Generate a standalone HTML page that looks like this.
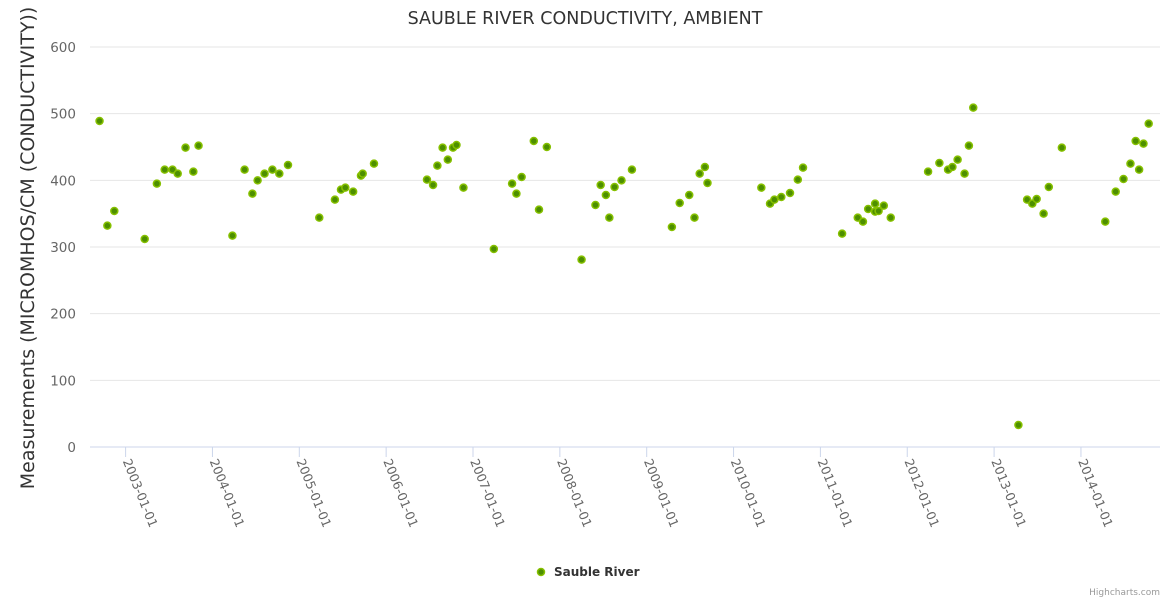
<!DOCTYPE html>
<html><head><meta charset="utf-8"><style>
body{margin:0;background:#fff;}
svg{display:block;font-family:"DejaVu Sans","Liberation Sans",sans-serif;}
</style></head><body>
<svg id="chart" width="1170" height="600">
<rect width="1170" height="600" fill="#fff"/>
<text x="585" y="24" text-anchor="middle" font-size="17.5" fill="#333">SAUBLE RIVER CONDUCTIVITY, AMBIENT</text>
<text transform="translate(34,248) rotate(-90)" text-anchor="middle" font-size="19" fill="#333">Measurements (MICROMHOS/CM (CONDUCTIVITY))</text>
<g id="grid"></g><g id="xaxis"></g><g id="pts"></g>
<g>
<circle cx="541" cy="572" r="3.5" fill="#4d8f00" stroke="#86c000" stroke-width="1.5"/>
<text x="554" y="576" font-size="12" font-weight="bold" fill="#333">Sauble River</text>
</g>
<text x="1160" y="595" text-anchor="end" font-size="9" fill="#999">Highcharts.com</text>
</svg>
<script>
const yTicks=[0,100,200,300,400,500,600];
const xTickYears=[2003,2004,2005,2006,2007,2008,2009,2010,2011,2012,2013,2014];
const dates=[2002.70,2002.79,2002.87,2003.22,2003.36,2003.45,2003.54,2003.60,2003.69,2003.78,2003.84,
2004.23,2004.37,2004.46,2004.52,2004.60,2004.69,2004.77,2004.87,
2005.23,2005.41,2005.48,2005.53,2005.62,2005.71,2005.73,2005.86,
2006.47,2006.54,2006.59,2006.65,2006.71,2006.77,2006.81,2006.89,
2007.24,2007.45,2007.50,2007.56,2007.70,2007.76,2007.85,
2008.25,2008.41,2008.47,2008.53,2008.57,2008.63,2008.71,2008.83,
2009.29,2009.38,2009.49,2009.55,2009.61,2009.67,2009.70,
2010.32,2010.42,2010.47,2010.55,2010.65,2010.74,2010.80,
2011.25,2011.43,2011.49,2011.55,2011.63,2011.63,2011.67,2011.73,2011.81,
2012.24,2012.37,2012.47,2012.52,2012.58,2012.66,2012.71,2012.76,
2013.28,2013.38,2013.44,2013.49,2013.57,2013.63,2013.78,
2014.28,2014.40,2014.49,2014.57,2014.63,2014.67,2014.72,2014.78];
const values=[489,332,354,312,395,416,416,410,449,413,452,
317,416,380,400,410,416,410,423,
344,371,386,389,383,407,410,425,
401,393,422,449,431,449,453,389,
297,395,380,405,459,356,450,
281,363,393,378,344,390,400,416,
330,366,378,344,410,420,396,
389,365,371,375,381,401,419,
320,344,338,357,365,353,354,362,344,
413,426,416,420,431,410,452,509,
33,371,365,372,350,390,449,
338,383,402,425,459,416,455,485];
const X0=90,X1=1160,Y0=447,Y1=47;
const xs=y=>125.6+(y-2003)*86.85;
const ys=v=>Y0-(v/600)*(Y0-Y1);
const NS="http://www.w3.org/2000/svg";
const mk=(t,a,p)=>{const e=document.createElementNS(NS,t);for(const k in a)e.setAttribute(k,a[k]);p.appendChild(e);return e;};
const grid=document.getElementById('grid');
yTicks.forEach(v=>{
 const l=mk('line',{x1:X0,x2:X1,y1:ys(v),y2:ys(v),stroke:v===0?'#ccd6eb':'#e6e6e6','stroke-width':1},grid);
 
 
 const t=mk('text',{x:76,y:ys(v)+5,'text-anchor':'end','font-size':13.5,fill:'#666'},grid);
 t.textContent=v;
 
 
});
const xa=document.getElementById('xaxis');
xTickYears.forEach(y=>{
 const x=xs(y);
 const l=mk('line',{x1:x,x2:x,y1:Y0,y2:Y0+10,stroke:'#ccd6eb'},xa);
 
 
 const t=mk('text',{transform:`translate(${x-3},${Y0+14}) rotate(68)`,'font-size':12.5,fill:'#666'},xa);
 t.textContent=y+'-01-01';
 
 
});
const pts=document.getElementById('pts');
dates.forEach((d,i)=>{
 const c=mk('circle',{cx:xs(d),cy:ys(values[i]),r:3.5,fill:'#4d8f00',stroke:'#86c000','stroke-width':1.5},pts);
 
 
});
</script>
</body></html>
